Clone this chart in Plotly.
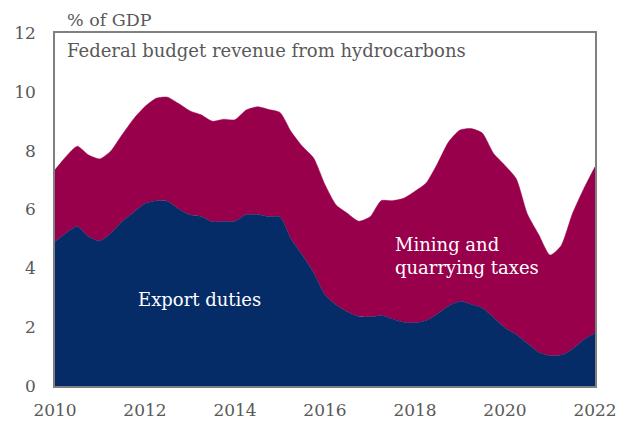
import pandas as pd
import plotly.graph_objects as go

# quarterly points, 2010Q1 .. 2022Q1, % of GDP
quarters = pd.date_range("2010-01-01", "2022-01-01", freq="QS")

export_duties = [
    4.9, 5.2, 5.42, 5.07,
    4.93, 5.2, 5.6, 5.9,
    6.2, 6.3, 6.28, 6.02,
    5.82, 5.76, 5.58, 5.6,
    5.6, 5.83, 5.83, 5.76,
    5.75, 5.0, 4.45, 3.85,
    3.1, 2.75, 2.52, 2.36,
    2.35, 2.4, 2.28, 2.17,
    2.15, 2.23, 2.45, 2.72,
    2.88, 2.78, 2.65, 2.33,
    1.98, 1.75, 1.45, 1.15,
    1.03, 1.05, 1.25, 1.57,
    1.8,
]

mining_taxes = [
    2.45, 2.6, 2.73, 2.78,
    2.79, 2.8, 2.95, 3.18,
    3.3, 3.48, 3.54, 3.58,
    3.53, 3.46, 3.42, 3.47,
    3.45, 3.55, 3.66, 3.64,
    3.55, 3.65, 3.7, 3.9,
    3.75, 3.4, 3.35, 3.24,
    3.4, 3.9, 4.02, 4.21,
    4.47, 4.67, 5.1, 5.58,
    5.82, 5.97, 5.95, 5.57,
    5.52, 5.3, 4.4, 4.0,
    3.42, 3.72, 4.6, 5.13,
    5.65,
]

year_ticks = ["2010", "2012", "2014", "2016", "2018", "2020", "2022"]

NAVY = "#052c67"
WINE = "#99004c"
GREY = "#595959"
FONT = "DejaVu Serif"

fig = go.Figure()
fig.add_trace(go.Scatter(
    x=quarters, y=export_duties, name="Export duties",
    stackgroup="rev", mode="lines",
    line=dict(color=NAVY, width=0.5, shape="spline", smoothing=0.6),
    fillcolor=NAVY,
))
fig.add_trace(go.Scatter(
    x=quarters, y=mining_taxes, name="Mining and quarrying taxes",
    stackgroup="rev", mode="lines",
    line=dict(color=WINE, width=0.5, shape="spline", smoothing=0.6),
    fillcolor=WINE,
))

# page body has an 8px margin, so the figure is a bit smaller than the window
fig.update_layout(
    width=621, height=415,
    margin=dict(l=47, r=34, t=25, b=37),
    paper_bgcolor="white", plot_bgcolor="white",
    showlegend=False,
    font=dict(family=FONT, color=GREY, size=16),
    xaxis=dict(
        range=[quarters[0], quarters[-1]],
        tickvals=[pd.Timestamp(y + "-01-01") for y in year_ticks],
        ticktext=year_ticks,
        showgrid=False, zeroline=False, automargin=False,
        showline=True, linecolor="#808080", linewidth=1.5, mirror=True,
        ticks="", ticklabelstandoff=8,
        tickfont=dict(size=17),
    ),
    yaxis=dict(
        range=[0, 12], tickvals=[0, 2, 4, 6, 8, 10, 12],
        showgrid=False, zeroline=False, automargin=False,
        showline=True, linecolor="#808080", linewidth=1.5, mirror=True,
        ticks="", ticklabelstandoff=14,
        tickfont=dict(size=17),
    ),
    annotations=[
        dict(text="% of GDP", xref="paper", yref="paper", x=0.018, y=1,
             xanchor="left", yanchor="bottom", yshift=1, showarrow=False,
             font=dict(size=17.5, color=GREY)),
        dict(text="Federal budget revenue from hydrocarbons", xref="paper",
             yref="paper", x=0.018, y=0.985, xanchor="left", yanchor="top",
             showarrow=False, font=dict(size=18, color=GREY)),
        dict(text="Export duties", xref="paper", yref="paper", x=0.267, y=0.244,
             xanchor="center", yanchor="middle", showarrow=False,
             font=dict(size=18, color="white")),
        dict(text="Mining and<br>quarrying taxes", xref="paper", yref="paper",
             x=0.626, y=0.368, xanchor="left", yanchor="middle", align="left",
             showarrow=False, font=dict(size=18, color="white")),
    ],
)

fig.write_html("out.html")
